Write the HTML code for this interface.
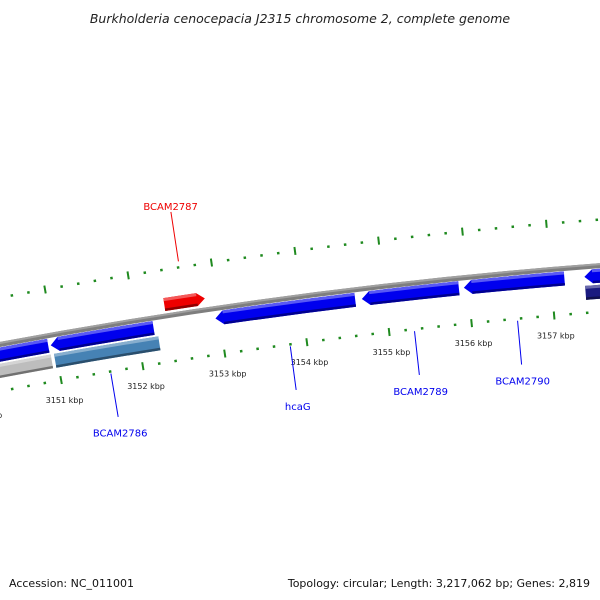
<!DOCTYPE html>
<html><head><meta charset="utf-8"><style>
body{margin:0;background:#fff;}
svg{display:block;font-family:"DejaVu Sans","Liberation Sans",sans-serif;}
</style></head><body>
<svg id="chart" width="600" height="600" viewBox="0 0 600 600" xmlns="http://www.w3.org/2000/svg">
<rect width="600" height="600" fill="#fff"/>
<text x="300" y="23" text-anchor="middle" font-size="12.5" font-style="italic" fill="#222">Burkholderia cenocepacia J2315 chromosome 2, complete genome</text>
<g id="ticks"></g>
<g id="backbone"></g>
<g id="features"></g>
<g id="labels"></g>
<text x="9" y="587" font-size="11" fill="#111">Accession: NC_011001</text>
<text x="590" y="587" text-anchor="end" font-size="11" fill="#111">Topology: circular; Length: 3,217,062 bp; Genes: 2,819</text>
</svg>
<script>
// feature data (kbp)
const featNames = ["f0","f1","hcaG","BCAM2789","BCAM2790","f5","BCAM2787","g0","BCAM2786","g2"];
const featStart = [3150.2,3150.95,3152.95,3154.72,3155.95,3157.40,3152.37,3150.2,3150.97,3157.40];
const featEnd   = [3150.92,3152.20,3154.64,3155.89,3157.16,3158.2,3152.86,3150.93,3152.24,3158.2];
const featRing  = [1,1,1,1,1,1,0,2,2,2];
const featStrand= [-1,-1,-1,-1,-1,-1,1,0,0,0];
const featColor = ["#0000ee","#0000ee","#0000ee","#0000ee","#0000ee","#0000ee","#ee0000","#bdbdbd","#4682b4","#1a1a80"];
const labelFeats = ["BCAM2787","BCAM2786","hcaG","BCAM2789","BCAM2790"];
const tickStart = 3150, tickEnd = 3158, tickStep = 0.2;

const CX=1015, CY=5750, A0=-0.1302, K0=3154, APK=0.0152;
const ringR = [[5505,5518],[5483,5497],[5467,5481]];
const NS="http://www.w3.org/2000/svg";
function ang(k){return A0+(k-K0)*APK;}
function pt(r,a){return [CX+r*Math.sin(a), CY-r*Math.cos(a)];}
function mk(tag,attrs,parent){const e=document.createElementNS(NS,tag);for(const k in attrs)e.setAttribute(k,attrs[k]);parent.appendChild(e);return e;}
function band(r1,r2,a1,a2){
  const p1=pt(r2,a1),p2=pt(r2,a2),p3=pt(r1,a2),p4=pt(r1,a1);
  return `M${p1} A${r2},${r2} 0 0 1 ${p2} L${p3} A${r1},${r1} 0 0 0 ${p4} Z`;
}
function arrowPath(r1,r2,a1,a2,strand){
  const h=8/r2, rm=(r1+r2)/2;
  if(strand===1){
    const b=a2-h;
    const p1=pt(r2,a1),p2=pt(r2,b),tip=pt(rm,a2),p3=pt(r1,b),p4=pt(r1,a1);
    return `M${p1} A${r2},${r2} 0 0 1 ${p2} L${tip} L${p3} A${r1},${r1} 0 0 0 ${p4} Z`;
  } else if(strand===-1){
    const b=a1+h;
    const tip=pt(rm,a1),p1=pt(r2,b),p2=pt(r2,a2),p3=pt(r1,a2),p4=pt(r1,b);
    return `M${tip} L${p1} A${r2},${r2} 0 0 1 ${p2} L${p3} A${r1},${r1} 0 0 0 ${p4} Z`;
  }
  return band(r1,r2,a1,a2);
}
function shade(c,f){const n=parseInt(c.slice(1),16);let r=n>>16,g=(n>>8)&255,b=n&255;
  const m=x=>Math.max(0,Math.min(255,Math.round(f>1?x+(255-x)*(f-1):x*f)));
  return `rgb(${m(r)},${m(g)},${m(b)})`;}

// ticks
const tg=document.getElementById('ticks');
const nT=Math.round((tickEnd-tickStart)/tickStep);
for(let i=0;i<=nT;i++){
  const k=tickStart+i*tickStep, a=ang(k), major=(i%5===0);
  [5454,5546].forEach((r,ri)=>{
    const len=major?8:2.5;
    const p1=pt(r-len/2,a),p2=pt(r+len/2,a);
    const l=mk('line',{x1:p1[0],y1:p1[1],x2:p2[0],y2:p2[1],stroke:'#1f8a1f','stroke-width':major?2:2.5},tg);
    
    
  });
  if(major){
    const p=pt(5434,a);
    const t=mk('text',{x:p[0],y:p[1]+3,'text-anchor':'middle','font-size':'8',fill:'#222'},tg);
    t.textContent=Math.round(k)+' kbp';
    
    
  }
}
// backbone
const bb=document.getElementById('backbone');
const bl=mk('path',{d:band(5497.5,5502.5,ang(3149.5),ang(3158.5)),fill:'#7e7e7e'},bb);


const bl2=mk('path',{d:band(5500.5,5502.5,ang(3149.5),ang(3158.5)),fill:'#a0a0a0'},bb);


// features
const fg=document.getElementById('features');
for(let i=0;i<featNames.length;i++){
  const [r1,r2]=ringR[featRing[i]], a1=ang(featStart[i]), a2=ang(featEnd[i]);
  const g=mk('g',{},fg);
  
  
  mk('path',{d:arrowPath(r1,r2,a1,a2,featStrand[i]),fill:featColor[i]},g);
  mk('path',{d:band(r2-3,r2,a1+(featStrand[i]===-1?8/r2:0),a2-(featStrand[i]===1?8/r2:0)),fill:shade(featColor[i],1.35)},g);
  mk('path',{d:band(r1,r1+2.5,a1+(featStrand[i]===-1?8/r2:0),a2-(featStrand[i]===1?8/r2:0)),fill:shade(featColor[i],0.6)},g);
}
// labels
const lg=document.getElementById('labels');
labelFeats.forEach(n=>{
  const i=featNames.indexOf(n), a=ang((featStart[i]+featEnd[i])/2);
  const fwd=featStrand[i]===1 || featRing[i]===0;
  const col=fwd?'#ee0000':'#0000ee';
  const rA=fwd?5552:5452, rB=fwd?5602:5408, rT=fwd?5604:5396;
  const p1=pt(rA,a),p2=pt(rB,a),pT=pt(rT,a);
  const l=mk('line',{x1:p1[0],y1:p1[1],x2:p2[0],y2:p2[1],stroke:col,'stroke-width':1},lg);
  
  
  const t=mk('text',{x:pT[0],y:pT[1]+(fwd?0:8),'text-anchor':'middle','font-size':'10',fill:col},lg);
  t.textContent=n;
  
  
});
</script>
</body></html>
